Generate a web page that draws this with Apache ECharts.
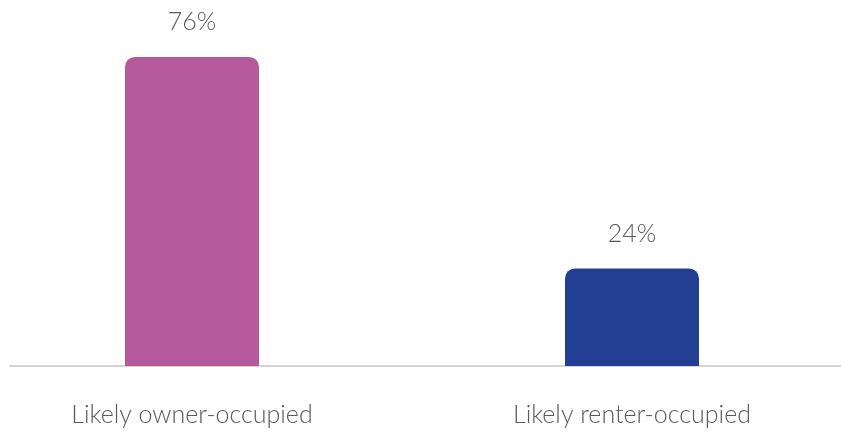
<!DOCTYPE html>
<html><head><meta charset="utf-8">
<script src="https://cdn.jsdelivr.net/npm/echarts@6/dist/echarts.min.js"></script>
<style>html,body{margin:0;padding:0;background:#fff}#c{width:841px;height:434px}</style>
</head><body><div id="c"></div>
<script>
const categories = ['Likely owner-occupied', 'Likely renter-occupied'];
const values = [76, 24];
const colors = ['#B5589C', '#223F93'];

const chart = echarts.init(document.getElementById('c'), null, {renderer: 'canvas'});
const fontFamily = 'Lato, "Open Sans", sans-serif';
chart.setOption({
  animation: false,
  grid: [
    {left: -28, right: -11, top: 0, bottom: 68, outerBoundsMode: 'none', containLabel: false},
    {left: 10, right: 0, top: 0, bottom: 68}
  ],
  xAxis: [
    {type: 'category', gridIndex: 0, data: categories,
     axisLine: {show: false}, axisTick: {show: false},
     axisLabel: {margin: 36, color: '#595959', fontSize: 25, fontFamily: fontFamily, fontWeight: 300}},
    {type: 'value', gridIndex: 1, min: 0, max: 1,
     axisLine: {show: true, lineStyle: {color: '#d4d4d4', width: 2}},
     axisTick: {show: false}, axisLabel: {show: false}, splitLine: {show: false}}
  ],
  yAxis: [
    {type: 'value', gridIndex: 0, min: 0, max: 90, show: false, splitLine: {show: false}},
    {type: 'value', gridIndex: 1, min: 0, max: 1, show: false, splitLine: {show: false}}
  ],
  series: [{
    type: 'bar', xAxisIndex: 0, yAxisIndex: 0,
    barWidth: 134,
    data: values.map((v, i) => ({value: v, itemStyle: {color: colors[i]}})),
    itemStyle: {borderRadius: [10, 10, 0, 0]},
    label: {show: true, position: 'top', distance: 22, formatter: '{c}%',
            color: '#595959', fontSize: 25, fontFamily: fontFamily, fontWeight: 300}
  }]
});
</script></body></html>
